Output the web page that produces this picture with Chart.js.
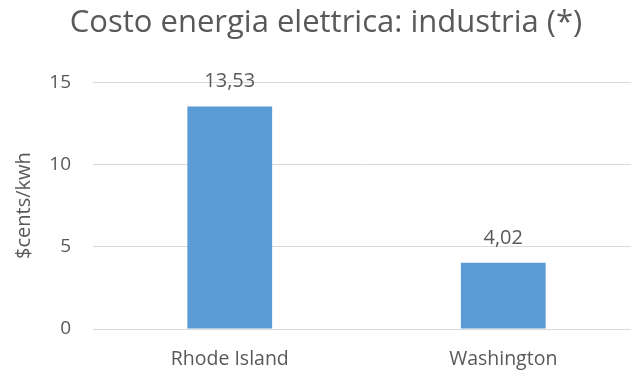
<!DOCTYPE html>
<html>
<head>
<meta charset="utf-8">
<script src="https://cdn.jsdelivr.net/npm/chart.js@4"></script>
<style>
  html, body { margin: 0; padding: 0; background: #fff; overflow: hidden; }
  /* plot area runs slightly past the right edge of the window */
  #wrap { width: 640px; height: 375px; }
</style>
</head>
<body>
<div id="wrap"><canvas id="costChart"></canvas></div>
<script>
// Data
const categories = ['Rhode Island', 'Washington'];
const costValues = [13.53, 4.02];
const yTicks = [0, 5, 10, 15];

const textColor = '#595959';
const fontFamily = "'Open Sans', 'Noto Sans', sans-serif";

// Value labels above each bar, comma decimal
const barLabels = {
    id: 'barLabels',
    afterDatasetsDraw(chart) {
        const ctx = chart.ctx;
        const meta = chart.getDatasetMeta(0);
        ctx.save();
        ctx.font = `20px ${fontFamily}`;
        ctx.fillStyle = textColor;
        ctx.textAlign = 'center';
        ctx.textBaseline = 'alphabetic';
        meta.data.forEach((bar, i) => {
            const txt = costValues[i].toFixed(2).replace('.', ',');
            ctx.fillText(txt, bar.x, bar.y - 19);
        });
        ctx.restore();
    }
};

new Chart(document.getElementById('costChart'), {
    type: 'bar',
    data: {
        labels: categories,
        datasets: [{
            data: costValues,
            backgroundColor: '#5b9bd5',
            barPercentage: 0.31,
            categoryPercentage: 1
        }]
    },
    options: {
        responsive: true,
        maintainAspectRatio: false,
        animation: false,
        layout: { padding: { left: 12, right: 0, top: 5, bottom: 0 } },
        plugins: {
            legend: { display: false },
            tooltip: { enabled: false },
            title: {
                display: true,
                text: 'Costo energia elettrica: industria (*)',
                color: textColor,
                font: { family: fontFamily, size: 31, weight: 'normal' },
                padding: { top: 0, bottom: 40 }
            }
        },
        scales: {
            x: {
                afterFit(axis) { axis.height = 46; },
                grid: { display: false, drawTicks: false },
                border: { display: true, color: '#d9d9d9', width: 1 },
                ticks: {
                    color: textColor,
                    font: { family: fontFamily, size: 19.5 },
                    padding: 19
                }
            },
            y: {
                min: 0,
                max: 15,
                afterBuildTicks(axis) {
                    axis.ticks = yTicks.map(v => ({ value: v }));
                },
                afterFit(axis) { axis.width = 81; },
                grid: { color: '#d9d9d9', drawTicks: false },
                border: { display: false },
                ticks: {
                    color: textColor,
                    font: { family: fontFamily, size: 19 },
                    padding: 22
                },
                title: {
                    display: true,
                    text: '$cents/kwh',
                    color: textColor,
                    font: { family: fontFamily, size: 20, weight: 'normal' },
                    padding: { top: 0, bottom: 4 }
                }
            }
        }
    },
    plugins: [barLabels]
});
</script>
</body>
</html>
